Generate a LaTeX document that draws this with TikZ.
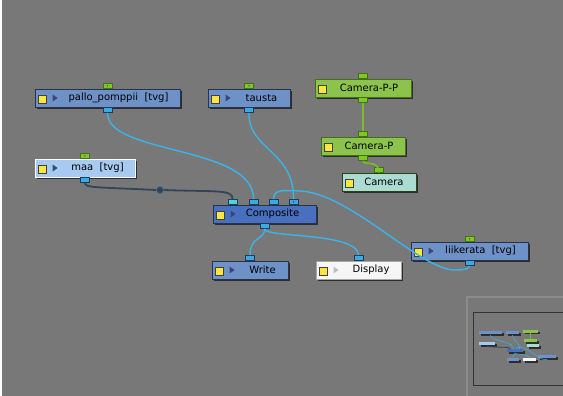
\documentclass[tikz,border=0pt]{standalone}
\usepackage{fontspec}
\setmainfont{DejaVu Sans}
\usetikzlibrary{positioning,shadows}

\definecolor{bgc}{RGB}{120,120,120}
\definecolor{modline}{RGB}{40,50,75}
\definecolor{shadowc}{RGB}{45,45,45}
\definecolor{tvgblue}{RGB}{110,145,200}
\definecolor{maablue}{RGB}{168,202,240}
\definecolor{compblue}{RGB}{72,112,190}
\definecolor{dispc}{RGB}{246,246,246}
\definecolor{greenc}{RGB}{140,195,75}
\definecolor{greenline}{RGB}{70,110,30}
\definecolor{camc}{RGB}{170,220,210}
\definecolor{portblue}{RGB}{60,170,225}
\definecolor{portcyan}{RGB}{70,215,225}
\definecolor{portline}{RGB}{30,60,90}
\definecolor{portgreen}{RGB}{125,200,35}
\definecolor{wireblue}{RGB}{60,180,235}
\definecolor{wiredark}{RGB}{52,68,88}
\definecolor{wiregreen}{RGB}{120,190,40}
\definecolor{yellowc}{RGB}{250,230,60}
\definecolor{playc}{RGB}{58,72,120}
\definecolor{navc}{RGB}{140,140,140}

\tikzset{
  mod/.style={draw=modline, line width=0.8pt, minimum height=18pt, inner sep=0pt,
    general shadow={fill=shadowc, shadow xshift=2pt, shadow yshift=-2pt}},
  lbl/.style={font=\fontsize{10}{12}\selectfont, text=black, inner sep=0pt},
  inport/.style={draw=portline, fill=portblue, line width=0.5pt, minimum width=9pt,
    minimum height=5pt, inner sep=0pt},
  grport/.style={inport, fill=portgreen, draw=greenline},
  yel/.style={draw=black!75, fill=yellowc, line width=0.5pt, minimum size=8pt, inner sep=0pt,
    general shadow={fill=black, shadow xshift=1pt, shadow yshift=-1pt}},
  wire/.style={wireblue, line width=1.4pt},
  darkwire/.style={wiredark, line width=1.8pt},
  greenwire/.style={wiregreen, line width=1.5pt},
  knot/.style={circle, draw=wiredark!60!wireblue, fill=wiredark, line width=0.6pt,
    minimum size=7pt, inner sep=0pt}
}

\begin{document}
\begin{tikzpicture}[x=1pt, y=-1pt]
  \useasboundingbox (0,0) rectangle (563,396);
  \fill[white] (0,0) rectangle (563,396);
  \fill[bgc] (2,0) rectangle (563,396);

  % modules
  \node[mod, fill=tvgblue, minimum width=145] (pallo) at (107.5,98) {};
  \node[mod, fill=tvgblue, minimum width=82] (tausta) at (249,98) {};
  \node[mod, fill=maablue, draw=white, minimum width=100] (maa) at (85,168) {};
  \node[mod, fill=greenc, draw=greenline, minimum width=96] (campp) at (363,88) {};
  \node[mod, fill=greenc, draw=greenline, minimum width=84] (camp) at (363,146) {};
  \node[mod, fill=camc, draw=greenline!60!black, minimum width=74] (cam) at (379,182) {};
  \node[mod, fill=compblue, minimum width=103] (comp) at (264.5,214) {};
  \node[mod, fill=tvgblue, minimum width=76] (write) at (250,270) {};
  \node[mod, fill=dispc, draw=black!35, minimum width=85] (disp) at (358.5,270) {};
  \node[mod, fill=tvgblue, minimum width=117] (liike) at (469.5,251) {};

  % labels
  \node[lbl] (pallo-t) at ([xshift=11pt]pallo.center) {pallo\_pomppii\ \ [tvg]};
  \node[lbl] (tausta-t) at ([xshift=12.5pt]tausta.center) {tausta};
  \node[lbl] (maa-t) at ([xshift=12.5pt]maa.center) {maa\ \ [tvg]};
  \node[lbl] (campp-t) at ([xshift=6pt]campp.center) {Camera-P-P};
  \node[lbl] (camp-t) at ([xshift=6pt]camp.center) {Camera-P};
  \node[lbl] (cam-t) at ([xshift=5pt]cam.center) {Camera};
  \node[lbl] (comp-t) at ([xshift=8pt]comp.center) {Composite};
  \node[lbl] (write-t) at ([xshift=12.5pt]write.center) {Write};
  \node[lbl] (disp-t) at ([xshift=12.5pt]disp.center) {Display};
  \node[lbl] (liike-t) at ([xshift=11pt]liike.center) {liikerata\ \ [tvg]};

  % icons
  \foreach \n in {pallo,tausta,maa,campp,camp,cam,comp,write,disp,liike}
    \node[yel, right=3pt of \n.west, yshift=-1pt] (\n-y) {};
  \foreach \n in {pallo,tausta,maa,comp,write,liike}
    \fill[playc] ([xshift=18pt,yshift=3.5pt]\n.west) -- ++(5pt,-3.5pt) -- ++(-5pt,-3.5pt) -- cycle;
  \fill[black!25] ([xshift=18pt,yshift=3.5pt]disp.west) -- ++(5pt,-3.5pt) -- ++(-5pt,-3.5pt) -- cycle;

  % ports
  \node[grport, anchor=south] (pallo-in) at (pallo.north) {};
  \node[inport, anchor=north] (pallo-out) at (pallo.south) {};
  \node[grport, anchor=south] (tausta-in) at (tausta.north) {};
  \node[inport, anchor=north] (tausta-out) at (tausta.south) {};
  \node[grport, anchor=south] (maa-in) at (maa.north) {};
  \node[inport, anchor=north] (maa-out) at (maa.south) {};
  \node[grport, anchor=south] (campp-in) at (campp.north) {};
  \node[grport, anchor=north] (campp-out) at (campp.south) {};
  \node[grport, anchor=south] (camp-in) at (camp.north) {};
  \node[grport, anchor=north] (camp-out) at (camp.south) {};
  \node[grport, anchor=south] (cam-in) at (cam.north) {};
  \node[inport, fill=portcyan, anchor=south] (comp-in1) at ([xshift=20pt]comp.north west) {};
  \node[inport, anchor=south] (comp-in2) at ([xshift=41pt]comp.north west) {};
  \node[inport, anchor=south] (comp-in3) at ([xshift=61pt]comp.north west) {};
  \node[inport, anchor=south] (comp-in4) at ([xshift=81pt]comp.north west) {};
  \node[inport, anchor=north] (comp-out) at (comp.south) {};
  \node[inport, anchor=south] (write-in) at (write.north) {};
  \node[inport, anchor=south] (disp-in) at (disp.north) {};
  \node[grport, anchor=south] (liike-in) at (liike.north) {};
  \node[inport, anchor=north] (liike-out) at (liike.south) {};
  \fill[black!70] (pallo-in) circle (0.8pt) (tausta-in) circle (0.8pt) (maa-in) circle (0.8pt)
    (liike-in) circle (0.8pt) (comp-in4) circle (0.8pt);

  % connections
  \draw[wire] (pallo-out.south) .. controls (107,155) and (254,145) .. (comp-in2.north);
  \draw[wire] (tausta-out.south) .. controls (248,150) and (294,150) .. (comp-in4.north);
  \draw[wire] (liike-out.south) .. controls (469,268) and (467,270) .. (455,270)
    .. controls (420,270) and (350,193) .. (300,191)
    .. controls (280,190) and (274,190) .. (comp-in3.north);
  \node[knot] (maa-knot) at (160,190) {};
  \draw[darkwire] (maa-out.south) .. controls (85,188) and (95,187) .. (maa-knot.west);
  \draw[darkwire] (maa-knot.east) .. controls (215,192) and (233,189) .. (comp-in1.north);
  \draw[wire] (comp-out.south) .. controls (265,240) and (250,236) .. (write-in.north);
  \draw[wire] (comp-out.south) .. controls (265,238) and (358,232) .. (disp-in.north);
  \draw[greenwire] (campp-out) -- (camp-in);
  \draw[greenwire] (camp-out.south) .. controls (363,166) and (379,159) .. (cam-in.south);

  % navigator
  \draw[navc, line width=1.5pt] (467,396) -- (467,297) -- (563,297);
  \draw[black!80, line width=1pt] (565,312) -- (473,312) -- (473,385) -- (565,385);
  \begin{scope}[shift={(473.5,317.3)}, scale=0.157]
    \foreach \xa/\ya/\xb/\yb/\c in {35/89/180/107/tvgblue, 208/89/290/107/tvgblue,
        35/159/135/177/maablue, 315/79/411/97/greenc, 321/137/405/155/greenc,
        342/173/416/191/camc, 213/205/316/223/compblue, 212/261/288/279/tvgblue,
        316/261/401/279/dispc, 411/242/528/260/tvgblue}{
      \fill[shadowc] (\xa+12,\ya+12) rectangle (\xb+12,\yb+12);
      \fill[\c] (\xa,\ya) rectangle (\xb,\yb);
    }
    \draw[wireblue, line width=0.5pt] (107,112) .. controls (107,155) and (254,145) .. (254,204)
      (248,112) .. controls (248,150) and (294,150) .. (294,204)
      (469,265) .. controls (469,268) and (467,270) .. (455,270)
        .. controls (420,270) and (350,193) .. (300,191) .. controls (280,190) and (274,190) .. (274,204)
      (265,228) .. controls (265,240) and (250,236) .. (250,261)
      (265,228) .. controls (265,238) and (358,232) .. (358,261);
    \draw[wiredark, line width=0.8pt] (85,182) .. controls (85,188) and (95,187) .. (160,190)
      .. controls (215,192) and (233,189) .. (233,205);
    \draw[wiregreen, line width=0.8pt] (363,97) -- (363,137);
  \end{scope}
\end{tikzpicture}
\end{document}
